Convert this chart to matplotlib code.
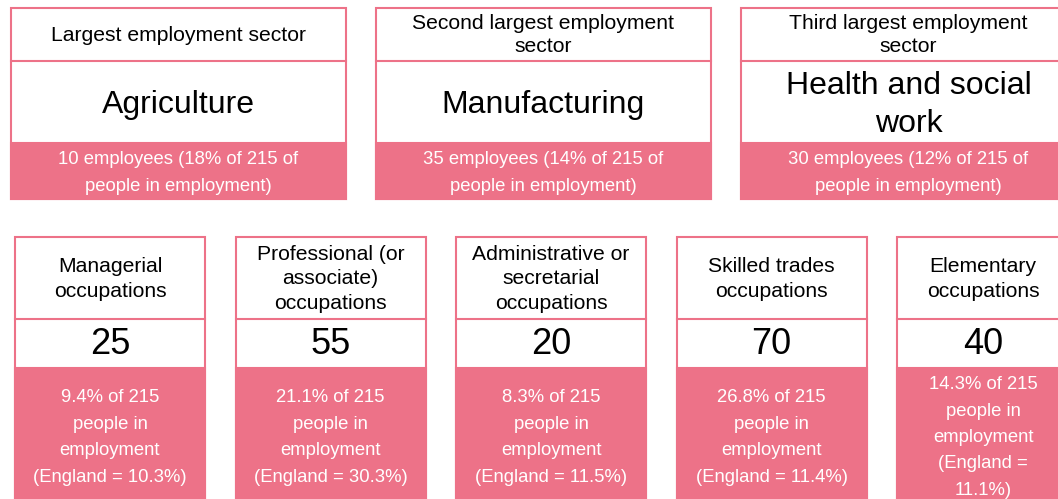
import matplotlib.pyplot as plt
from matplotlib.patches import Rectangle

plt.rcParams['font.family'] = ['Liberation Sans', 'DejaVu Sans']

PINK = '#ED7288'
total_employed = 215

# top row: employment sectors
sector_titles = ["Largest employment sector",
                 "Second largest employment\nsector",
                 "Third largest employment\nsector"]
sector_names = ["Agriculture", "Manufacturing", "Health and social\nwork"]
sector_employees = [10, 35, 30]
sector_share = [18, 14, 12]

# bottom row: occupations
occ_titles = ["Managerial\noccupations",
              "Professional (or\nassociate)\noccupations",
              "Administrative or\nsecretarial\noccupations",
              "Skilled trades\noccupations",
              "Elementary\noccupations"]
occ_counts = [25, 55, 20, 70, 40]
occ_share = [9.4, 21.1, 8.3, 26.8, 14.3]
england_share = [10.3, 30.3, 11.5, 11.4, 11.1]

fig = plt.figure(figsize=(10.58, 4.99), dpi=100)
ax = fig.add_axes([0, 0, 1, 1])
ax.set_xlim(0, 1058)
ax.set_ylim(499, 0)
ax.axis('off')


def card(x, w, top, sep, pink_top, bottom):
    ax.add_patch(Rectangle((x, top), w, bottom - top, facecolor='white',
                           edgecolor=PINK, lw=1.5))
    ax.add_patch(Rectangle((x, pink_top), w, bottom - pink_top,
                           facecolor=PINK, edgecolor=PINK, lw=1.5))
    ax.plot([x, x + w], [sep, sep], color=PINK, lw=1.5)


# top cards
for i, title in enumerate(sector_titles):
    x, w = 11 + i * 365, 335
    card(x, w, 8, 61, 143, 199)
    cx = x + w / 2
    ax.text(cx, 35, title, ha='center', va='center', fontsize=15.2,
            linespacing=1.3)
    ax.text(cx, 105, sector_names[i], ha='center', va='center',
            fontsize=23, linespacing=1.33)
    foot = (f"{sector_employees[i]} employees ({sector_share[i]}% of "
            f"{total_employed} of\npeople in employment)")
    ax.text(cx, 173, foot, ha='center', va='center', fontsize=13.3,
            color='white', linespacing=1.72)

# bottom cards
for i, title in enumerate(occ_titles):
    x = 15 + i * 220.5
    w = 190 if i < 4 else 172
    card(x, w, 237, 319, 368, 510)
    cx = x + w / 2
    ax.text(cx, 279, title, ha='center', va='center', fontsize=15.2,
            linespacing=1.35)
    ax.text(cx, 344, str(occ_counts[i]), ha='center', va='center',
            fontsize=26)
    eng = f"(England = {england_share[i]}%)"
    if w < 180:
        eng = eng.replace("= ", "=\n")
    foot = f"{occ_share[i]}% of {total_employed}\npeople in\nemployment\n{eng}"
    ax.text(cx, 437.5, foot, ha='center', va='center', fontsize=13.3,
            color='white', linespacing=1.72)

fig.savefig("out.png", dpi=100)
